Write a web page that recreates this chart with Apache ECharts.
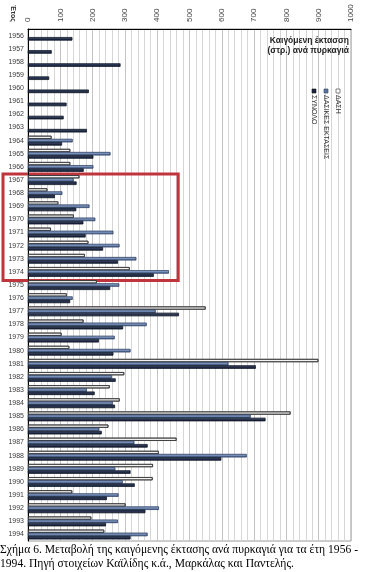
<!DOCTYPE html>
<html><head><meta charset="utf-8">
<script src="https://cdn.jsdelivr.net/npm/echarts@6/dist/echarts.min.js"></script>
<style>html,body{margin:0;padding:0;background:#fff}#c{width:367px;height:572px}</style>
</head><body><div id="c"></div>
<script>
const years = ['1956','1957','1958','1959','1960','1961','1962','1963','1964','1965','1966','1967','1968','1969','1970','1971','1972','1973','1974','1975','1976','1977','1978','1979','1980','1981','1982','1983','1984','1985','1986','1987','1988','1989','1990','1991','1992','1993','1994'];
const dash = [null,null,null,null,null,null,null,null,73,131,131,159,60,94,142,71,187,176,315,213,120,550,172,104,128,899,298,253,284,813,249,460,405,387,386,137,302,196,236];
const dasikes = [null,null,null,null,null,null,null,null,138,255,202,141,106,190,208,264,283,335,436,282,138,395,367,268,317,620,259,182,262,689,220,329,677,270,293,280,405,278,370];
const synolo = [137,73,286,65,188,119,110,182,105,202,172,150,83,149,171,178,232,278,389,254,130,467,294,219,264,705,271,206,269,735,228,370,598,317,330,244,363,241,317];
const xTicks = [0,100,200,300,400,500,600,700,800,900,1000];
const seriesNames = ['ΔΑΣΗ','ΔΑΣΙΚΕΣ ΕΚΤΑΣΕΙΣ','ΣΥΝΟΛΟ'];
const highlightRange = ['1967','1974'];

const chart = echarts.init(document.getElementById('c'), null, {renderer:'canvas'});
function grad(a,b){return new echarts.graphic.LinearGradient(0,0,0,1,[{offset:0,color:a},{offset:1,color:b}]);}
const option = {
  animation:false,
  grid:{left:28,right:16,top:29,bottom:31,show:true,borderColor:'#9a9a9a',borderWidth:1},
  xAxis:{type:'value',position:'top',min:xTicks[0],max:xTicks[xTicks.length-1],interval:100,
    axisLine:{show:true,lineStyle:{color:'#000',width:1}},axisTick:{show:false},
    axisLabel:{rotate:-90,fontSize:8,color:'#444',fontFamily:'Liberation Sans',margin:7,formatter:function(v){return String(v);}},
    splitLine:{show:true,lineStyle:{color:'#c4c4c4',width:1}},
    minorTick:{show:false,splitNumber:5},
    minorSplitLine:{show:true,lineStyle:{color:'#d6d6d6',width:1}}},
  yAxis:{type:'category',data:years,inverse:true,
    axisLine:{show:true,lineStyle:{color:'#000',width:1}},axisTick:{show:false},
    axisLabel:{interval:0,fontSize:7,color:'#3a3a3a',fontFamily:'Liberation Sans',margin:4},
    splitLine:{show:false}},
  series:[
    {name:seriesNames[0],type:'bar',data:dash,barGap:'0%',barCategoryGap:'26%',
      itemStyle:{color:grad('#ffffff','#e6e6e6'),borderColor:'#3a3a3a',borderWidth:0.8}},
    {name:seriesNames[1],type:'bar',data:dasikes,barGap:'0%',barCategoryGap:'26%',
      itemStyle:{color:grad('#9fb4d6','#44608e'),borderColor:'#2c3f63',borderWidth:0.5}},
    {name:seriesNames[2],type:'bar',data:synolo,barGap:'0%',barCategoryGap:'26%',
      itemStyle:{color:grad('#3d4c6e','#141b31'),borderColor:'#111827',borderWidth:0.5}}
  ]
};
chart.setOption(option);

const y0 = chart.convertToPixel({yAxisIndex:0}, highlightRange[0]);
const y1 = chart.convertToPixel({yAxisIndex:0}, highlightRange[1]);
const band = chart.convertToPixel({yAxisIndex:0}, years[1]) - chart.convertToPixel({yAxisIndex:0}, years[0]);
const xr = chart.convertToPixel({xAxisIndex:0}, 465);

function legendItem(i, fill, stroke){
  return {type:'group', y: i*12, children:[
    {type:'rect', shape:{x:0,y:-2,width:4,height:4}, style:{fill:fill, stroke:stroke, lineWidth:0.6}},
    {type:'text', x:6, y:0, style:{text:seriesNames[i], font:'7px "Liberation Sans"', fill:'#333', textVerticalAlign:'middle', verticalAlign:'middle'}}
  ]};
}

chart.setOption({graphic:[
  {type:'rect', shape:{x:3, y:y0-band/2+0.5, width:xr-3, height:(y1-y0)+band+1.5}, style:{fill:'none', stroke:'#c0343c', lineWidth:3}},
  {type:'text', x:13, y:5, rotation:-Math.PI/2, style:{text:'Έτος', font:'bold 7px "Liberation Sans"', fill:'#333', textVerticalAlign:'middle', verticalAlign:'middle'}},
  {type:'text', x:349, y:41, style:{text:'Καιγόμενη έκτασση', font:'bold 8.5px "Liberation Sans"', fill:'#222', align:'right', textAlign:'right', verticalAlign:'middle', textVerticalAlign:'middle'}},
  {type:'text', x:349, y:51, style:{text:'(στρ.) ανά πυρκαγιά', font:'bold 8.5px "Liberation Sans"', fill:'#222', align:'right', textAlign:'right', verticalAlign:'middle', textVerticalAlign:'middle'}},
  {type:'group', x:338, y:89, rotation:-Math.PI/2, children:[
    legendItem(0,'#ffffff','#333'),
    legendItem(1,'#5a76a3','#2c3f63'),
    legendItem(2,'#1c2540','#111')
  ]},
  {type:'text', x:0, y:550, style:{text:'Σχήμα 6. Μεταβολή της καιγόμενης έκτασης ανά πυρκαγιά για τα έτη 1956 -', font:'11.6px "Liberation Serif"', fill:'#000', verticalAlign:'middle', textVerticalAlign:'middle'}},
  {type:'text', x:0, y:564, style:{text:'1994. Πηγή στοιχείων Καϊλίδης κ.ά., Μαρκάλας και Παντελής.', font:'11.6px "Liberation Serif"', fill:'#000', verticalAlign:'middle', textVerticalAlign:'middle'}}
]});
</script></body></html>
